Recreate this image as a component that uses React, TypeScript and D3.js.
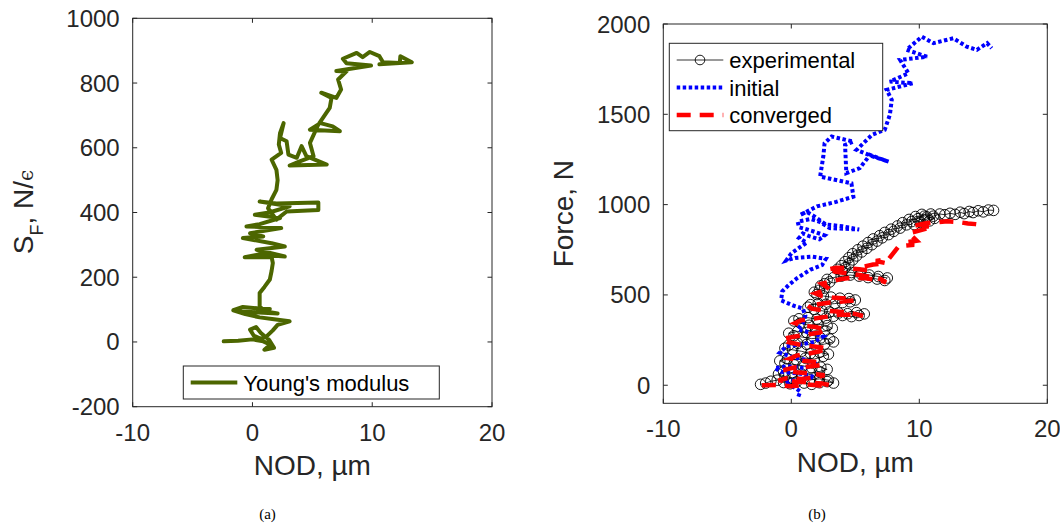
import React from "react";
import * as d3 from "d3";

// ---------- Data (a): Young's modulus path [NOD µm, S_F] ----------
const youngData: [number, number][] = [
  [-2.4, 2], [-1.2, 4], [0.0, 8], [0.9, 2], [1.5, -8], [1.0, -24], [1.8, -18], [1.4, 6], [0.7, 28], [0.3, 46],
  [-0.2, 38], [0.1, 20], [0.7, 10], [1.2, 18], [1.7, 36], [2.1, 53], [3.1, 64], [1.8, 70], [0.6, 76], [-0.6, 86],
  [-1.6, 98], [-0.8, 108], [0.4, 104], [1.45, 102], [0.1, 90], [-1.0, 94], [2.1, 88], [1.0, 95], [0.6, 110], [0.6, 151],
  [1.0, 170], [1.45, 193], [1.6, 220], [1.7, 244], [1.6, 262], [-0.65, 262], [0.5, 270], [2.7, 264], [0.35, 285], [2.7, 295],
  [1.6, 305], [-0.8, 321], [0.9, 326], [-0.2, 336], [2.4, 352], [-0.5, 357], [0.6, 364], [2.3, 383], [0.2, 393], [1.4, 400],
  [3.1, 419], [0.6, 434], [2.0, 428], [5.5, 431], [5.5, 408], [2.85, 403], [2.0, 378], [1.3, 413], [1.6, 441], [2.0, 470],
  [2.1, 500], [2.0, 532], [1.6, 563], [2.4, 584], [2.2, 610], [2.3, 645], [2.6, 676], [2.3, 630], [2.85, 620], [3.0, 579],
  [3.7, 569], [4.1, 605], [4.5, 574], [6.2, 548], [3.1, 545], [3.95, 558], [5.1, 574], [4.8, 615], [5.5, 672], [4.8, 656],
  [7.3, 651], [6.7, 666], [5.6, 677], [6.45, 723], [6.6, 754], [5.75, 770], [7.0, 754], [7.4, 780], [7.15, 811], [7.85, 836],
  [7.0, 837], [9.9, 854], [7.85, 861], [7.55, 875], [8.7, 893], [9.2, 880], [9.8, 896], [10.6, 883], [10.9, 864], [12.3, 862],
  [12.35, 883], [13.3, 864], [10.6, 858],
];

// ---------- Data (b): experimental [NOD µm, Force N] ----------
const expData: [number, number][] = [
  [-2.4, 5], [-2.0, 12], [-1.6, 22], [-1.1, 28], [-0.6, 15], [-0.1, 8], [0.4, 18], [1.0, 12], [1.6, 5], [2.2, 14],
  [2.8, 20], [3.3, 12], [2.9, 28], [2.2, 35], [1.5, 30], [0.8, 42], [0.1, 38], [-0.5, 50], [-1.0, 62], [-0.6, 75],
  [0.1, 70], [0.8, 62], [1.5, 68], [2.2, 76], [2.8, 88], [2.3, 100], [1.6, 96], [0.9, 108], [0.2, 115], [-0.5, 122],
  [-0.9, 135], [-0.3, 146], [0.4, 140], [1.1, 150], [1.8, 145], [2.5, 160], [2.9, 172], [2.2, 182], [1.5, 176], [0.8, 188],
  [0.1, 196], [-0.5, 205], [-0.2, 222], [0.5, 232], [1.2, 226], [1.9, 218], [2.6, 228], [3.3, 240], [3.0, 256], [2.3, 262],
  [1.6, 258], [0.9, 266], [0.2, 274], [-0.2, 288], [0.5, 298], [1.2, 292], [1.9, 302], [2.6, 298], [3.2, 315], [2.8, 330],
  [2.1, 338], [1.4, 332], [0.7, 344], [0.2, 356], [0.6, 368], [1.3, 374], [2.0, 366], [2.7, 372], [3.3, 382], [4.0, 386],
  [4.7, 380], [5.3, 386], [5.7, 395], [5.1, 402], [4.4, 396], [3.7, 400], [3.0, 406], [2.4, 412], [1.8, 420], [1.3, 432],
  [1.5, 446], [2.1, 452], [2.7, 448], [3.4, 452], [4.0, 458], [4.6, 462], [5.0, 472], [4.5, 480], [3.8, 482], [3.1, 488],
  [2.5, 494], [2.0, 502], [1.8, 515], [2.2, 526], [2.6, 538], [2.3, 550], [2.6, 562], [3.0, 572], [2.8, 586], [3.3, 596],
  [3.9, 604], [4.6, 610], [5.3, 604], [6.0, 596], [6.7, 588], [7.3, 580], [7.5, 594], [6.8, 602], [6.1, 610], [5.4, 618],
  [4.7, 624], [4.0, 630], [3.6, 642], [4.2, 650], [3.9, 662], [4.5, 672], [4.2, 684], [4.8, 694], [4.5, 706], [5.1, 716],
  [4.8, 728], [5.5, 738], [5.2, 750], [5.9, 758], [5.6, 770], [6.3, 778], [6.0, 790], [6.7, 798], [6.4, 810], [7.1, 816],
  [6.9, 828], [7.6, 834], [7.3, 846], [8.0, 852], [7.8, 864], [8.5, 870], [8.3, 882], [9.0, 888], [8.7, 900], [9.4, 906],
  [9.2, 918], [9.9, 922], [9.7, 934], [10.4, 936], [10.2, 946], [10.9, 948], [10.6, 932], [11.2, 924], [10.8, 910], [10.1, 902],
  [9.6, 890], [10.4, 914], [11.1, 936], [11.6, 948], [12.0, 944], [12.4, 952], [12.8, 946], [13.2, 958], [13.5, 950], [13.9, 962],
  [14.2, 956], [14.6, 966], [15.0, 960], [15.4, 970], [15.8, 968],
];

// ---------- Data (b): initial ----------
const iniData: [number, number][] = [
  [0.55, -63], [0.7, -35], [0.1, -5], [-0.5, 15], [0.6, 35], [1.8, 45], [0.9, 62], [-0.8, 75], [-1.3, 95], [-0.3, 105],
  [1.0, 95], [2.0, 118], [1.2, 140], [0.0, 158], [-0.9, 180], [-0.4, 215], [0.7, 225], [1.8, 240], [2.5, 270], [1.5, 290],
  [0.5, 310], [0.9, 345], [1.1, 385], [0.9, 425], [0.2, 440], [-0.8, 470], [-0.7, 520], [-0.2, 555], [0.4, 590], [1.5, 640],
  [2.4, 665], [2.7, 700], [1.6, 712], [0.3, 705], [-0.4, 690], [0.0, 730], [0.6, 760], [1.2, 790], [0.6, 815], [0.9, 840],
  [1.4, 825], [2.2, 808], [2.6, 830], [1.6, 855], [0.6, 875], [0.5, 905], [1.5, 920], [2.2, 905], [3.0, 870], [4.2, 866],
  [5.3, 862], [4.0, 880], [2.7, 890], [1.8, 935], [1.2, 960], [0.7, 943], [2.0, 990], [3.5, 1015], [4.85, 1044], [4.7, 1118],
  [2.25, 1155], [2.5, 1266], [2.6, 1340], [3.15, 1377], [4.85, 1349], [4.2, 1330], [4.3, 1174], [5.35, 1202], [6.15, 1275], [7.6, 1238],
  [6.4, 1266], [5.1, 1303], [6.3, 1386], [7.3, 1414], [7.7, 1497], [7.85, 1580], [7.45, 1635], [9.5, 1672], [7.7, 1681], [9.15, 1727],
  [8.5, 1801], [10.6, 1819], [9.0, 1857], [10.2, 1930], [11.1, 1894], [12.65, 1921], [13.7, 1875], [14.5, 1857], [15.3, 1894], [15.65, 1866],
];

// ---------- Data (b): converged ----------
const conData: [number, number][] = [
  [-2.3, 0], [-1.2, 2], [0.0, -6], [1.2, 4], [2.2, -2], [3.0, 0], [2.4, 10], [1.2, 16], [0.0, 22], [-1.0, 26],
  [-0.4, 38], [0.8, 34], [1.9, 44], [2.6, 55], [1.6, 64], [0.4, 72], [-0.6, 84], [0.2, 98], [1.4, 104], [2.4, 112],
  [2.0, 128], [0.9, 136], [-0.1, 148], [0.4, 164], [1.4, 176], [2.2, 188], [2.8, 204], [1.8, 214], [0.6, 226], [-0.3, 240],
  [-0.7, 256], [0.3, 270], [1.3, 282], [2.2, 292], [2.7, 308], [1.9, 322], [0.9, 330], [0.3, 344], [0.8, 360], [1.8, 370],
  [2.8, 380], [3.9, 392], [5.0, 390], [5.6, 384], [4.8, 398], [3.6, 408], [2.5, 414], [1.6, 424], [1.3, 440], [2.1, 448],
  [3.0, 458], [4.0, 464], [4.9, 470], [4.2, 480], [3.2, 486], [2.4, 494], [1.9, 508], [2.4, 520], [3.0, 530], [2.7, 548],
  [2.4, 562], [3.1, 574], [3.9, 588], [4.8, 596], [5.8, 592], [6.8, 582], [7.4, 570], [7.0, 588], [6.2, 600], [5.2, 612],
  [4.3, 620], [3.5, 628], [2.8, 640], [3.5, 650], [4.4, 648], [5.3, 642], [6.0, 636], [5.6, 656], [6.4, 668], [7.4, 676],
  [6.6, 688], [7.6, 698], [8.4, 770], [9.6, 778], [8.8, 790], [9.8, 800], [9.2, 842], [10.2, 860], [11.0, 876], [10.0, 888],
  [9.4, 880], [10.6, 898], [11.4, 902], [12.2, 908], [13.0, 904], [13.8, 896], [14.4, 892], [15.1, 886],
];

const xTicks = [-10, 0, 10, 20];
const yTicksA = [-200, 0, 200, 400, 600, 800, 1000];
const yTicksB = [0, 500, 1000, 1500, 2000];
const legendB = ["experimental", "initial", "converged"];

const FONT = "'Liberation Sans', Arial, Helvetica, sans-serif";
const SERIF = "'Liberation Serif', 'Times New Roman', Times, serif";
const AX = "#262626";

function Frame({ x, y, xTicksV, yTicksV }: any) {
  const [x0, x1] = x.range();
  const [y0, y1] = y.range();
  const tl = 4.5;
  return (
    <g>
      <rect x={x0} y={y1} width={x1 - x0} height={y0 - y1} fill="none" stroke={AX} strokeWidth={1} />
      {xTicksV.map((t: number) => (
        <g key={"x" + t}>
          <line x1={x(t)} x2={x(t)} y1={y0} y2={y0 - tl} stroke={AX} />
          <line x1={x(t)} x2={x(t)} y1={y1} y2={y1 + tl} stroke={AX} />
          <text x={x(t)} y={y0 + 34} textAnchor="middle" fontSize={24} fill={AX} fontFamily={FONT}>{t}</text>
        </g>
      ))}
      {yTicksV.map((t: number) => (
        <g key={"y" + t}>
          <line x1={x0} x2={x0 + tl} y1={y(t)} y2={y(t)} stroke={AX} />
          <line x1={x1} x2={x1 - tl} y1={y(t)} y2={y(t)} stroke={AX} />
          <text x={x0 - 13} y={y(t) + 8.5} textAnchor="end" fontSize={24} fill={AX} fontFamily={FONT}>{t}</text>
        </g>
      ))}
    </g>
  );
}

export default function App() {
  const xa = d3.scaleLinear().domain([-10, 20]).range([132.7, 492]);
  const ya = d3.scaleLinear().domain([-200, 1000]).range([406.7, 18.3]);
  const xb = d3.scaleLinear().domain([-10, 20]).range([663.3, 1047.3]);
  const yb = d3.scaleLinear().domain([-100, 2000]).range([403.3, 24]);

  const lineA = d3.line<[number, number]>().x((d) => xa(d[0])).y((d) => ya(d[1]));
  const lineB = d3.line<[number, number]>().x((d) => xb(d[0])).y((d) => yb(d[1]));

  const olive = "#4c6600";
  const blue = "#0000ff";
  const red = "#ff0000";
  const legRowsY = [60, 87.5, 115];

  return (
    <svg width={1060} height={525} style={{ position: "absolute", left: 0, top: 0, background: "#fff" }} fontFamily={FONT}>
      <rect x={0} y={0} width={1060} height={525} fill="#fff" />
      {/* ---------- Panel (a) ---------- */}
      <path d={lineA(youngData) || ""} fill="none" stroke={olive} strokeWidth={4} strokeLinejoin="round" strokeLinecap="round" />
      <Frame x={xa} y={ya} xTicksV={xTicks} yTicksV={yTicksA} />
      <g>
        <rect x={183.3} y={366} width={256} height={33} fill="#fff" stroke={AX} strokeWidth={1} />
        <line x1={190.7} x2={237.3} y1={382.5} y2={382.5} stroke={olive} strokeWidth={4} />
        <text x={243.3} y={390.5} fontSize={22} fill="#000">Young's modulus</text>
      </g>
      <text x={312.3} y={475} textAnchor="middle" fontSize={28} fill={AX}>NOD, µm</text>
      <text transform="translate(33,212) rotate(-90)" textAnchor="middle" fontSize={28} fill={AX}>
        <tspan>S</tspan>
        <tspan fontSize={18} dy={10}>F</tspan>
        <tspan dy={-10}>, N/</tspan>
        <tspan fontSize={20} fontFamily="'DejaVu Serif', serif">ϵ</tspan>
      </text>
      <text x={267.5} y={519} textAnchor="middle" fontSize={15} fontFamily={SERIF} fill="#000">(a)</text>

      {/* ---------- Panel (b) ---------- */}
      <path d={lineB(expData) || ""} fill="none" stroke="#000" strokeWidth={0.8} />
      {expData.map((d, i) => (
        <circle key={i} cx={xb(d[0])} cy={yb(d[1])} r={5.3} fill="none" stroke="#000" strokeWidth={0.9} />
      ))}
      <path d={lineB(iniData) || ""} fill="none" stroke={blue} strokeWidth={4} strokeDasharray="3.5 2.5" />
      <path d={lineB(conData) || ""} fill="none" stroke={red} strokeWidth={4.5} strokeDasharray="14 9" />
      <Frame x={xb} y={yb} xTicksV={xTicks} yTicksV={yTicksB} />
      <g>
        <rect x={669.3} y={43.3} width={213.4} height={87.4} fill="#fff" stroke={AX} strokeWidth={1} />
        <line x1={676.7} x2={723.3} y1={legRowsY[0]} y2={legRowsY[0]} stroke="#000" strokeWidth={0.8} />
        <circle cx={700} cy={legRowsY[0]} r={4.8} fill="none" stroke="#000" strokeWidth={0.9} />
        <line x1={676.7} x2={723.3} y1={legRowsY[1]} y2={legRowsY[1]} stroke={blue} strokeWidth={4} strokeDasharray="3.5 2.5" />
        <line x1={676.7} x2={723.3} y1={legRowsY[2]} y2={legRowsY[2]} stroke={red} strokeWidth={4.5} strokeDasharray="14 9" />
        {legendB.map((s, i) => (
          <text key={s} x={729.3} y={legRowsY[i] + 8} fontSize={22} fill="#000">{s}</text>
        ))}
      </g>
      <text x={855.3} y={472} textAnchor="middle" fontSize={28} fill={AX}>NOD, µm</text>
      <text transform="translate(573,213.7) rotate(-90)" textAnchor="middle" fontSize={28} fill={AX}>Force, N</text>
      <text x={817} y={519} textAnchor="middle" fontSize={15} fontFamily={SERIF} fill="#000">(b)</text>
    </svg>
  );
}
